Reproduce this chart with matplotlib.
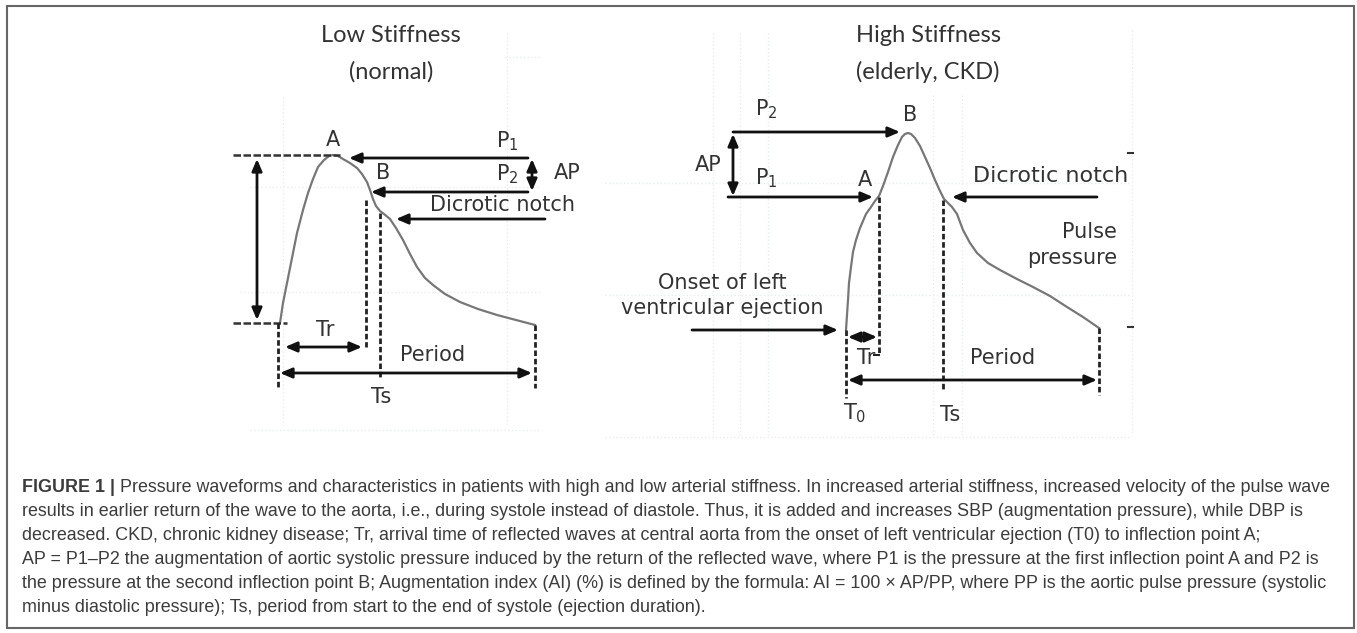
import matplotlib
matplotlib.use('Agg')
import matplotlib.pyplot as plt
from matplotlib.patches import Rectangle

# waveform points (pixel coords, y down)
low_x = [280, 283, 287, 292, 297, 303, 308, 313, 318, 324, 329, 333, 338, 343, 350, 357, 362, 367, 370, 373, 376, 380, 384, 390, 396, 403, 410, 417, 425, 433, 445, 460, 478, 497, 516, 535]
low_y = [323, 303, 283, 258, 233, 210, 193, 179, 167, 160, 156, 155, 156, 159, 163, 168, 174, 182, 190, 199, 206, 211, 214, 219, 228, 240, 254, 267, 278, 285, 294, 302, 309, 315, 320, 325]
high_x = [846, 847, 848, 849, 851, 853, 856, 860, 866, 871, 875, 879, 883, 888, 893, 898, 902, 905, 908, 911, 915, 920, 925, 930, 935, 940, 944, 948, 952, 957, 963, 970, 977, 988, 1000, 1017, 1033, 1050, 1067, 1083, 1099]
high_y = [330, 315, 300, 283, 267, 252, 240, 228, 214, 207, 201, 196, 186, 172, 157, 145, 137, 134, 133, 134, 138, 146, 157, 168, 180, 191, 199, 203, 207, 214, 230, 243, 253, 263, 270, 279, 287, 296, 307, 317, 328]

caption_lines = [
    " Pressure waveforms and characteristics in patients with high and low arterial stiffness. In increased arterial stiffness, increased velocity of the pulse wave",
    "results in earlier return of the wave to the aorta, i.e., during systole instead of diastole. Thus, it is added and increases SBP (augmentation pressure), while DBP is",
    "decreased. CKD, chronic kidney disease; Tr, arrival time of reflected waves at central aorta from the onset of left ventricular ejection (T0) to inflection point A;",
    "AP = P1\u2013P2 the augmentation of aortic systolic pressure induced by the return of the reflected wave, where P1 is the pressure at the first inflection point A and P2 is",
    "the pressure at the second inflection point B; Augmentation index (AI) (%) is defined by the formula: AI = 100 \u00d7 AP/PP, where PP is the aortic pulse pressure (systolic",
    "minus diastolic pressure); Ts, period from start to the end of systole (ejection duration).",
]

W, H = 1357, 633
fig = plt.figure(figsize=(W / 100, H / 100), dpi=100)
ax = fig.add_axes([0, 0, 1, 1])
ax.set_xlim(0, W)
ax.set_ylim(H, 0)
ax.axis('off')

lab = dict(family=['DejaVu Sans'], color='#333333', fontsize=15)
ttl = dict(family=['Lato', 'DejaVu Sans'], color='#333333', fontsize=17)
cap = dict(family=['Liberation Sans'], color='#3c3c3c', fontsize=12.9)


def arrow(x0, y0, x1, y1, style='-|>'):
    ax.annotate('', xy=(x1, y1), xytext=(x0, y0),
                arrowprops=dict(arrowstyle=style + ',head_length=0.7,head_width=0.3',
                                color='#111111', lw=2, shrinkA=0, shrinkB=0))


def vdash(x, y0, y1):
    ax.plot([x, x], [y0, y1], color='#222222', lw=2, ls=(0, (2, 1)))


# faint dotted background grid from the scanned image
grid_col = '#e9eded'
for gx, g0, g1 in [(283, 97, 425), (507, 33, 425), (713, 33, 435), (740, 33, 435), (768, 33, 435), (933, 95, 435), (962, 95, 435), (1132, 30, 435)]:
    ax.plot([gx, gx], [g0, g1], color=grid_col, lw=1, ls=':')
for gy, g0, g1 in [(187, 250, 540), (292, 240, 540), (430, 250, 540), (183, 605, 1130), (295, 605, 1130), (437, 605, 1130), (57, 505, 540)]:
    ax.plot([g0, g1], [gy, gy], color=grid_col, lw=1, ls=':')

# frame
ax.add_patch(Rectangle((7, 6), 1347, 622, fill=False, edgecolor='#666666', lw=1.5))

# ---------------- low stiffness ----------------
ax.text(391, 35, 'Low Stiffness', ha='center', va='center', **ttl)
ax.text(391, 72, '(normal)', ha='center', va='center', **ttl)
ax.plot(low_x, low_y, color='#777777', lw=1.6)
ax.plot([233, 340], [155, 155], color='#333333', lw=1.8, ls=(0, (3, 1)))
ax.plot([233, 287], [323, 323], color='#333333', lw=1.8, ls=(0, (3, 1)))
arrow(257, 159, 257, 320, '<|-|>')
ax.text(333, 140, 'A', ha='center', va='center', **lab)
arrow(528, 158, 349, 158)
ax.text(507, 141, r'P$_1$', ha='center', va='center', **lab)
arrow(528, 192, 371, 192)
ax.text(507, 174, r'P$_2$', ha='center', va='center', **lab)
ax.text(383, 173, 'B', ha='center', va='center', **lab)
arrow(532, 159, 532, 191, '<|-|>')
ax.text(567, 173, 'AP', ha='center', va='center', **lab)
arrow(545, 219, 396, 219)
ax.text(502, 205, 'Dicrotic notch', ha='center', va='center', **lab)
vdash(366, 200, 347)
vdash(380, 213, 377)
vdash(278, 323, 388)
vdash(535, 325, 388)
arrow(285, 347, 362, 347, '<|-|>')
ax.text(325, 330, 'Tr', ha='center', va='center', **lab)
arrow(280, 373, 532, 373, '<|-|>')
ax.text(433, 355, 'Period', ha='center', va='center', **lab)
ax.text(381, 397, 'Ts', ha='center', va='center', **lab)

# ---------------- high stiffness ----------------
ax.text(928, 35, 'High Stiffness', ha='center', va='center', **ttl)
ax.text(928, 72, '(elderly, CKD)', ha='center', va='center', **ttl)
ax.plot(high_x, high_y, color='#777777', lw=1.6)
arrow(733, 132, 900, 132)
ax.text(766, 109, r'P$_2$', ha='center', va='center', **lab)
ax.text(910, 115, 'B', ha='center', va='center', **lab)
arrow(733, 134, 733, 196, '<|-|>')
ax.text(708, 165, 'AP', ha='center', va='center', **lab)
arrow(728, 197, 873, 197)
ax.text(766, 178, r'P$_1$', ha='center', va='center', **lab)
ax.text(865, 180, 'A', ha='center', va='center', **lab)
arrow(1097, 197, 952, 197)
ax.text(1128, 176, 'Dicrotic notch', ha='right', va='center', fontsize=16,
        family=['DejaVu Sans'], color='#333333')
ax.text(1117, 232, 'Pulse', ha='right', va='center', **lab)
ax.text(1117, 258, 'pressure', ha='right', va='center', **lab)
ax.plot([1128, 1133], [153, 153], color='#333333', lw=1.5)
ax.plot([1128, 1133], [327, 327], color='#333333', lw=1.5)
ax.text(722, 283, 'Onset of left', ha='center', va='center', **lab)
ax.text(722, 308, 'ventricular ejection', ha='center', va='center', **lab)
arrow(692, 330, 838, 330)
vdash(879, 197, 355)
ax.plot([874, 879], [355, 355], color='#222222', lw=1.5)
vdash(943, 200, 390)
vdash(846, 330, 398)
vdash(1099, 328, 395)
arrow(848, 337, 877, 337, '<|-|>')
ax.text(866, 358, 'Tr', ha='center', va='center', **lab)
arrow(848, 380, 1097, 380, '<|-|>')
ax.text(1003, 358, 'Period', ha='center', va='center', **lab)
ax.text(855, 413, r'T$_0$', ha='center', va='center', **lab)
ax.text(950, 415, 'Ts', ha='center', va='center', **lab)

# ---------------- caption ----------------
y0, dy = 492, 24
head = ax.text(22, y0, 'FIGURE 1 |', ha='left', va='baseline', fontweight='bold', **cap)
ax.annotate(caption_lines[0], xy=(1, 0), xycoords=head, va='bottom', ha='left', **cap)
for i, line in enumerate(caption_lines[1:], start=1):
    ax.text(22, y0 + i * dy, line, ha='left', va='baseline', **cap)

fig.savefig('out.png', dpi=100)
